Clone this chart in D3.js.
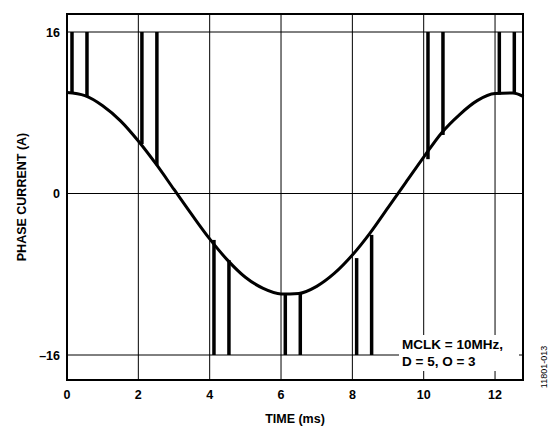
<!DOCTYPE html>
<html><head><meta charset="utf-8">
<script src="https://cdn.jsdelivr.net/npm/d3@7"></script>
<style>body{margin:0;background:#fff}text{font-family:"Liberation Sans",Arial,sans-serif;font-weight:bold}</style>
</head><body>
<script>
// phase current curve (ms, A)
const curveT = [0,0.5,1,1.5,2,2.5,3,3.5,4,4.5,5,5.5,6,6.5,7,7.5,8,8.5,9,9.5,10,10.5,11,11.5,12,12.5,12.8];
const curveA = [10,9.7,8.7,7.2,5.2,2.9,0.4,-2.1,-4.5,-6.6,-8.3,-9.4,-9.95,-9.9,-9.2,-7.9,-6.1,-3.9,-1.4,1.1,3.6,6.0,7.8,9.2,9.9,9.95,9.6];
// chopping spikes: time, start current, end current
const spikeT = [0.14,0.56,2.1,2.52,4.12,4.54,6.12,6.54,8.12,8.54,10.12,10.54,12.12,12.54];
const spikeFrom = [9.95,9.6,4.9,2.8,-4.6,-6.6,-9.95,-9.9,-6.4,-4.1,3.4,5.8,9.8,9.95];
const spikeTo = [16,16,16,16,-16,-16,-16,-16,-16,-16,16,16,16,16];
const xTicks = [0,2,4,6,8,10,12];
const yTicks = [16,0,-16];

const W=554,H=436, L=67,R=523,T=14,B=380;
const svg=d3.select("body").append("svg").attr("width",W).attr("height",H);
const x=d3.scaleLinear().domain([0,12.8]).range([L,L+(R-L)*1]);
x.domain([0,(R-L)/35.67]);
const y=d3.scaleLinear().domain([-16,16]).range([355,32]);

// grid
svg.append("g").selectAll("line").data(xTicks).enter().append("line")
  .attr("x1",d=>x(d)).attr("x2",d=>x(d)).attr("y1",T).attr("y2",B).attr("stroke","#000").attr("stroke-width",1);
svg.append("g").selectAll("line").data(yTicks).enter().append("line")
  .attr("x1",L).attr("x2",R).attr("y1",d=>y(d)).attr("y2",d=>y(d)).attr("stroke","#000").attr("stroke-width",1);

// spikes
svg.append("g").selectAll("line").data(spikeT).enter().append("line")
  .attr("x1",d=>x(d)).attr("x2",d=>x(d))
  .attr("y1",(d,i)=>y(spikeFrom[i])).attr("y2",(d,i)=>y(spikeTo[i]))
  .attr("stroke","#000").attr("stroke-width",3.5);

// curve
svg.append("path").datum(curveT.map((t,i)=>[t,curveA[i]]))
  .attr("d",d3.line().x(d=>x(d[0])).y(d=>y(d[1])).curve(d3.curveMonotoneX))
  .attr("fill","none").attr("stroke","#000").attr("stroke-width",3);

svg.append("rect").attr("x",L).attr("y",T).attr("width",R-L).attr("height",B-T)
  .attr("fill","none").attr("stroke","#000").attr("stroke-width",2);

// tick labels
svg.append("g").selectAll("text").data(xTicks).enter().append("text")
  .attr("x",d=>x(d)).attr("y",399).attr("text-anchor","middle").attr("font-size",12.5).text(d=>d);
svg.append("g").selectAll("text").data(yTicks).enter().append("text")
  .attr("x",60).attr("y",d=>y(d)+4.5).attr("text-anchor","end").attr("font-size",12.5)
  .text(d=>d<0?"\u2013"+(-d):d);

svg.append("text").attr("x",(L+R)/2).attr("y",423).attr("text-anchor","middle").attr("font-size",12.5).text("TIME (ms)");
svg.append("text").attr("transform","translate(26,197) rotate(-90)").attr("text-anchor","middle").attr("font-size",12.5).text("PHASE CURRENT (A)");

svg.append("rect").attr("x",399).attr("y",335).attr("width",120).attr("height",36).attr("fill","#fff");
svg.append("text").attr("x",402).attr("y",349).attr("font-size",13.5).text("MCLK = 10MHz,");
svg.append("text").attr("x",402).attr("y",366).attr("font-size",13.5).text("D = 5, O = 3");
svg.append("text").attr("transform","translate(547,367) rotate(-90)").attr("text-anchor","middle")
  .attr("font-size",9).attr("font-weight","normal").style("font-weight","normal").text("11801-013");
</script>
</body></html>
